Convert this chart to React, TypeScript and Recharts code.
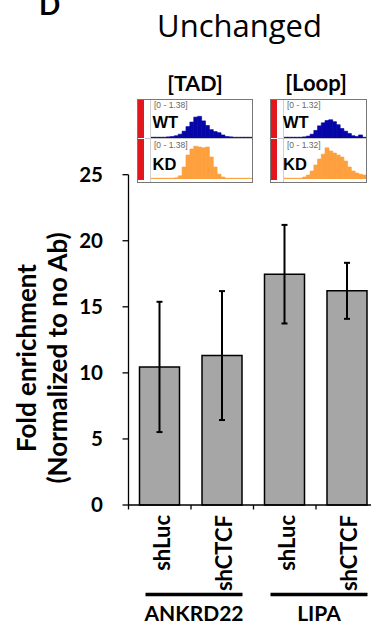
import React from 'react';
import { BarChart, Bar, XAxis, YAxis, ErrorBar } from 'recharts';

// ---------- data ----------
const categories = ['shLuc', 'shCTCF', 'shLuc', 'shCTCF'];
const genes = ['ANKRD22', 'ANKRD22', 'LIPA', 'LIPA'];
const foldEnrichment = [10.45, 11.31, 17.47, 16.21];
const errorValues = [4.93, 4.88, 3.73, 2.12];
const yTicks = [0, 5, 10, 15, 20, 25];

const insetTitles = ['[TAD]', '[Loop]'];
const insetScales = ['[0 - 1.38]', '[0 - 1.32]'];
const trackNames = ['WT', 'KD'];

const tadWT = [0.02, 0.02, 0.02, 0.02, 0.03, 0.04, 0.06, 0.1, 0.18, 0.3, 0.42, 0.55, 0.57, 0.45, 0.33, 0.22, 0.17, 0.14, 0.08, 0.04, 0.03, 0.02, 0.02, 0.02, 0.02, 0.02];
const tadKD = [0.02, 0.02, 0.02, 0.02, 0.02, 0.02, 0.03, 0.08, 0.3, 0.6, 0.75, 0.82, 0.8, 0.78, 0.8, 0.55, 0.3, 0.12, 0.05, 0.02, 0.02, 0.02, 0.02, 0.02, 0.02, 0.02];
const loopWT = [0.02, 0.02, 0.02, 0.02, 0.02, 0.03, 0.05, 0.1, 0.2, 0.32, 0.4, 0.46, 0.48, 0.43, 0.35, 0.25, 0.18, 0.12, 0.06, 0.04, 0.08, 0.02];
const loopKD = [0.02, 0.02, 0.02, 0.02, 0.02, 0.05, 0.1, 0.2, 0.35, 0.5, 0.62, 0.78, 0.7, 0.65, 0.6, 0.55, 0.45, 0.3, 0.2, 0.15, 0.12, 0.1];

const data = categories.map((c, i) => ({
  id: `${genes[i]}-${c}`,
  name: c,
  gene: genes[i],
  value: foldEnrichment[i],
  err: errorValues[i],
}));

// ---------- layout ----------
const CHART_W = 390;
const CHART_H = 627;
const MARGIN = { top: 174.7, right: 11.5, bottom: 0, left: 78.5 };
const Y_AXIS_W = 50;
const PLOT_W = CHART_W - MARGIN.left - MARGIN.right - Y_AXIS_W;
const BAND = PLOT_W / categories.length;
const BOLD = { fontFamily: 'Lato', fontWeight: 700 as const };

function CategoryTick(props: any) {
  const { x, y, index } = props;
  const d = data[index];
  if (!d) return null;
  const half = BAND / 2;
  const lx = x + 10;
  const ly = y + 10;
  const isGroupStart = index === 0 || genes[index] !== genes[index - 1];
  let groupEl: React.ReactNode = null;
  if (isGroupStart) {
    let n = 0;
    while (index + n < genes.length && genes[index + n] === genes[index]) n++;
    const gx0 = x - half + 17;
    const gx1 = x - half + n * BAND - 11;
    groupEl = (
      <g>
        <line x1={gx0} x2={gx1} y1={y + 89.5} y2={y + 89.5} stroke="#000" strokeWidth={3.5} />
        <text x={(gx0 + gx1) / 2} y={y + 116} textAnchor="middle" fontSize={21} fill="#000" style={BOLD}>
          {genes[index]}
        </text>
      </g>
    );
  }
  return (
    <g>
      <line x1={x - half} x2={x - half} y1={y} y2={y + 4.5} stroke="#000" strokeWidth={1.3} />
      {index === categories.length - 1 && (
        <line x1={x + half} x2={x + half} y1={y} y2={y + 4.5} stroke="#000" strokeWidth={1.3} />
      )}
      <text
        x={lx}
        y={ly}
        transform={`rotate(-90 ${lx} ${ly})`}
        textAnchor="end"
        fontSize={22}
        fill="#000"
        style={BOLD}
      >
        {d.name}
      </text>
      {groupEl}
    </g>
  );
}

function Track({ values, color, width, height }: { values: number[]; color: string; width: number; height: number }) {
  const rows = values.map((v, i) => ({ i, v }));
  return (
    <BarChart width={width} height={height} data={rows} margin={{ top: 0, right: 0, bottom: 0, left: 0 }} barCategoryGap={0} barGap={0}>
      <XAxis dataKey="i" hide />
      <YAxis hide domain={[0, 1]} />
      <Bar dataKey="v" fill={color} stroke={color} strokeWidth={0.6} isAnimationActive={false} />
    </BarChart>
  );
}

function Inset({ left, width, scale, wt, kd, nameX }: { left: number; width: number; scale: string; wt: number[]; kd: number[]; nameX: number }) {
  const innerW = width - 2;
  const dataLeft = 13;
  const trackW = innerW - dataLeft;
  const txt = { fontFamily: 'Liberation Sans, Arial, sans-serif' };
  return (
    <div style={{ position: 'absolute', left, top: 99, width, height: 84, border: '1px solid #777', boxSizing: 'border-box', background: '#fff' }}>
      <div style={{ position: 'absolute', left: 0, top: 0, width: 6, height: 38, background: '#e2171d' }} />
      <div style={{ position: 'absolute', left: 0, top: 39, width: 6, height: 41, background: '#e2171d' }} />
      <div style={{ position: 'absolute', left: 11.5, top: 0, width: 1.5, height: 82, background: '#cfcfcf' }} />
      <div style={{ position: 'absolute', left: 7, top: 38, width: innerW - 7, height: 1, background: '#c4c4c4' }} />
      <div style={{ position: 'absolute', left: dataLeft, top: 0 }}>
        <Track values={wt} color="#0505a8" width={trackW} height={38} />
      </div>
      <div style={{ position: 'absolute', left: dataLeft, top: 39 }}>
        <Track values={kd} color="#fea03e" width={trackW} height={40} />
      </div>
      <svg width={innerW} height={82} style={{ position: 'absolute', left: 0, top: 0, pointerEvents: 'none' }}>
        <text x={16} y={8.3} fontSize={8.5} fill="#666" style={txt}>{scale}</text>
        <text x={16} y={48.3} fontSize={8.5} fill="#666" style={txt}>{scale}</text>
        <text x={nameX} y={28.3} fontSize={16.5} fontWeight={700} fill="#000" style={txt}>{trackNames[0]}</text>
        <text x={nameX} y={70} fontSize={16.5} fontWeight={700} fill="#000" style={txt}>{trackNames[1]}</text>
      </svg>
    </div>
  );
}

export default function App() {
  return (
    <div style={{ position: 'absolute', left: 0, top: 0, width: 371, height: 627, overflow: 'hidden', background: '#fff' }}>
      <div style={{ position: 'absolute', left: 0, top: 0 }}>
        <BarChart width={CHART_W} height={CHART_H} data={data} margin={MARGIN}>
          <XAxis
            dataKey="id"
            interval={0}
            height={CHART_H - MARGIN.top - 330.3}
            tickSize={0}
            tickMargin={0}
            tickLine={false}
            axisLine={{ stroke: '#000', strokeWidth: 1.3 }}
            tick={<CategoryTick />}
          />
          <YAxis
            width={Y_AXIS_W}
            domain={[0, 25]}
            ticks={yTicks}
            interval={0}
            tickSize={6}
            tickMargin={19.5}
            axisLine={{ stroke: '#000', strokeWidth: 1.3 }}
            tickLine={{ stroke: '#000', strokeWidth: 1.3 }}
            tick={{ fill: '#000', fontSize: 20.5, fontWeight: 700, fontFamily: 'Lato' }}
          />
          <Bar dataKey="value" fill="#a6a6a6" stroke="#000" strokeWidth={1.5} barSize={40} isAnimationActive={false}>
            <ErrorBar dataKey="err" direction="y" width={3} stroke="#000" strokeWidth={2} />
          </Bar>
        </BarChart>
      </div>
      <Inset left={137} width={116} scale={insetScales[0]} wt={tadWT} kd={tadKD} nameX={14.5} />
      <Inset left={270} width={97} scale={insetScales[1]} wt={loopWT} kd={loopKD} nameX={12} />
      <svg width={371} height={627} style={{ position: 'absolute', left: 0, top: 0, pointerEvents: 'none' }}>
        <text x={39} y={15} fontSize={28} fill="#000" style={BOLD}>D</text>
        <text x={239.5} y={37} textAnchor="middle" fontSize={31} fill="#000" style={{ fontFamily: 'Open Sans' }}>Unchanged</text>
        <text x={195} y={91} textAnchor="middle" fontSize={21.5} fill="#000" style={BOLD}>{insetTitles[0]}</text>
        <text x={316} y={90.5} textAnchor="middle" fontSize={22} fill="#000" style={BOLD}>{insetTitles[1]}</text>
        <text x={36} y={358} transform="rotate(-90 36 358)" textAnchor="middle" fontSize={26} fill="#000" style={BOLD}>Fold enrichment</text>
        <text x={67} y={358} transform="rotate(-90 67 358)" textAnchor="middle" fontSize={26} fill="#000" style={BOLD}>(Normalized to no Ab)</text>
      </svg>
    </div>
  );
}
